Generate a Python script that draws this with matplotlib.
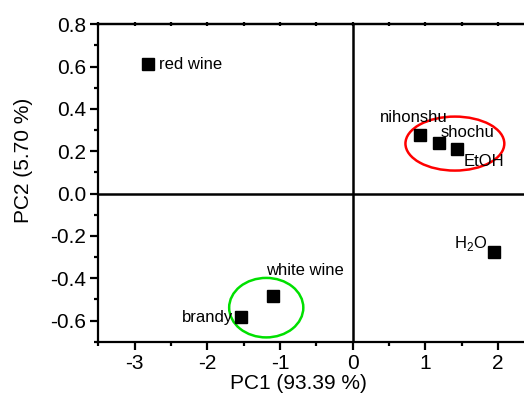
import numpy as np
import matplotlib
matplotlib.use('Agg')
import matplotlib.pyplot as plt
from matplotlib.patches import Ellipse
from matplotlib.ticker import MultipleLocator

plt.rcParams['font.family'] = ['Liberation Sans', 'DejaVu Sans']
plt.rcParams['mathtext.fontset'] = 'custom'
plt.rcParams['mathtext.rm'] = 'Liberation Sans'
plt.rcParams['axes.linewidth'] = 1.6

# PCA scores
names = ['red wine', 'nihonshu', 'shochu', 'EtOH', r'H$_2$O', 'white wine', 'brandy']
pc1 = [-2.82, 0.93, 1.18, 1.43, 1.95, -1.10, -1.54]
pc2 = [0.61, 0.277, 0.238, 0.21, -0.274, -0.482, -0.585]

# label offsets (points) and alignment
offsets = [(8.4, 0), (-29, 12.5), (1.7, 7.9), (5.3, -8.9), (-29, 6.0), (-4.8, 18), (-5.3, 0)]
aligns = ['left', 'left', 'left', 'left', 'left', 'left', 'right']

# grouping ellipses: centre x, centre y, width, height, colour
groups = [(1.405, 0.236, 1.36, 0.255, 'red'),
          (-1.19, -0.539, 1.02, 0.281, '#00e000')]

fig = plt.figure(figsize=(5.24, 4.03), dpi=100)
ax = fig.add_axes([0.1876, 0.152, 0.8324, 0.788])

ax.axhline(0, color='black', lw=1.8, zorder=1)
ax.axvline(0, color='black', lw=1.8, zorder=1)

ax.plot(pc1, pc2, 's', color='black', ms=8.6, zorder=3)
for n, x, y, off, ha in zip(names, pc1, pc2, offsets, aligns):
    ax.annotate(n, (x, y), xytext=off, textcoords='offset points',
                ha=ha, va='center', fontsize=12)

for cx, cy, w, h, c in groups:
    ax.add_patch(Ellipse((cx, cy), w, h, fill=False, ec=c, lw=1.8, zorder=2))

ax.set_xlim(-3.5, 2.5)
ax.set_ylim(-0.7, 0.8)
ax.xaxis.set_major_locator(MultipleLocator(1))
ax.xaxis.set_minor_locator(MultipleLocator(0.5))
ax.yaxis.set_major_locator(MultipleLocator(0.2))
ax.yaxis.set_minor_locator(MultipleLocator(0.1))
ax.yaxis.set_major_formatter(plt.FormatStrFormatter('%.1f'))
ax.xaxis.set_major_formatter(plt.FuncFormatter(lambda v, p: '%d' % v))
ax.tick_params(which='major', length=5.5, width=1.6, labelsize=15, pad=3)
ax.tick_params(which='minor', length=3, width=1.6)

top = ax.secondary_xaxis('top')
top.xaxis.set_major_locator(MultipleLocator(0.5))
top.tick_params(direction='inout', length=3, width=1.6, labeltop=False)

ax.set_xlabel('PC1 (93.39 %)', fontsize=15)
ax.set_ylabel('PC2 (5.70 %)', fontsize=15)
ax.xaxis.set_label_coords(0.458, -0.102)
ax.yaxis.set_label_coords(-0.150, 0.572)

fig.savefig('out.png', dpi=100)
